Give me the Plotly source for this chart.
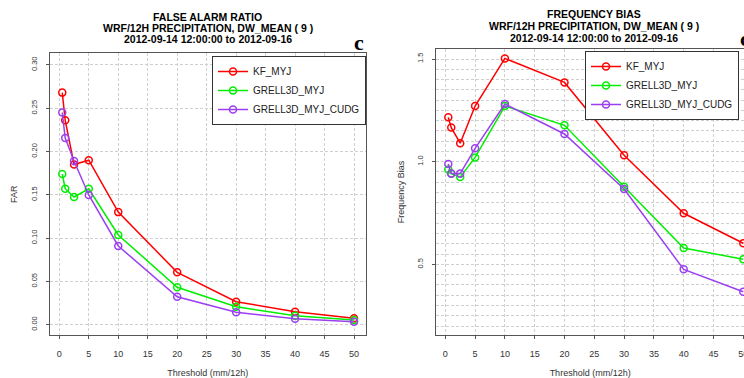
import plotly.graph_objects as go

W, H = 744, 378

thresholds = [0.5, 1, 2.5, 5, 10, 20, 30, 40, 50]
series_names = ["KF_MYJ", "GRELL3D_MYJ", "GRELL3D_MYJ_CUDG"]
far_kf = [0.268, 0.236, 0.185, 0.190, 0.130, 0.0605, 0.0266, 0.0150, 0.0074]
far_grell = [0.174, 0.157, 0.1475, 0.157, 0.1036, 0.0432, 0.0208, 0.0104, 0.0054]
far_cudg = [0.245, 0.2156, 0.189, 0.1498, 0.0909, 0.0323, 0.0143, 0.0069, 0.0035]
fb_kf = [1.216, 1.166, 1.090, 1.271, 1.503, 1.386, 1.031, 0.749, 0.603]
fb_grell = [0.962, 0.942, 0.925, 1.021, 1.271, 1.177, 0.878, 0.580, 0.525]
fb_cudg = [0.989, 0.942, 0.942, 1.065, 1.281, 1.135, 0.867, 0.476, 0.367]
colors = ["#FF0000", "#00EE00", "#9B3FF0"]

x_ticks = [0, 5, 10, 15, 20, 25, 30, 35, 40, 45, 50]
far_ticks = [0.00, 0.05, 0.10, 0.15, 0.20, 0.25, 0.30]
far_tick_text = ["0.00", "0.05", "0.10", "0.15", "0.20", "0.25", "0.30"]
fb_ticks = [0.5, 1.0, 1.5]
fb_tick_text = ["0.5", "1.0", "1.5"]

title_left = ["FALSE ALARM RATIO", "WRF/12H PRECIPITATION, DW_MEAN ( 9 )", "2012-09-14 12:00:00 to 2012-09-16"]
title_right = ["FREQUENCY BIAS", "WRF/12H PRECIPITATION, DW_MEAN ( 9 )", "2012-09-14 12:00:00 to 2012-09-16"]
x_title = "Threshold (mm/12h)"


def px(x):
    return x / W


def py(y):
    return 1 - y / H


FONT = "Liberation Sans, Arial, sans-serif"
fig = go.Figure()

for name, vals, col in zip(series_names, [far_kf, far_grell, far_cudg], colors):
    fig.add_trace(go.Scatter(
        x=thresholds, y=vals, name=name, mode="lines+markers",
        line=dict(color=col, width=1.5),
        marker=dict(symbol="circle-open", size=7, color=col, line=dict(width=1.5, color=col)),
        xaxis="x", yaxis="y", legend="legend", cliponaxis=False,
    ))
for name, vals, col in zip(series_names, [fb_kf, fb_grell, fb_cudg], colors):
    fig.add_trace(go.Scatter(
        x=thresholds, y=vals, name=name, mode="lines+markers",
        line=dict(color=col, width=1.5),
        marker=dict(symbol="circle-open", size=7, color=col, line=dict(width=1.5, color=col)),
        xaxis="x2", yaxis="y2", legend="legend2", cliponaxis=False,
    ))

grid = dict(showgrid=True, gridcolor="#cfcfcf", griddash="3px,2px", gridwidth=1, zeroline=False)
axis_common = dict(showline=True, linecolor="#555555", linewidth=1.2, ticks="outside", ticklen=3,
                   tickcolor="#555555", tickfont=dict(size=9, color="#333333", family=FONT),
                   automargin=False)
ytickfont = dict(size=7.5, color="#333333", family=FONT)

fig.update_layout(
    width=W, height=H, margin=dict(l=0, r=0, t=0, b=0, pad=0, autoexpand=False), autosize=False,
    paper_bgcolor="white", plot_bgcolor="white",
    font=dict(family=FONT, color="#333333"),
    xaxis=dict(domain=[px(50), px(365.7)], range=[-1.58, 51.98], tickvals=x_ticks, mirror=True,
               anchor="y", ticklabelstandoff=7,
               title=dict(text=x_title, font=dict(size=9, color="#333333"), standoff=14),
               **grid, **axis_common),
    yaxis=dict(domain=[py(335), py(53.3)], range=[-0.0119, 0.3134], tickvals=far_ticks,
               ticktext=far_tick_text, tickangle=-90, mirror=True, anchor="x", ticklabelstandoff=6,
               title=dict(text="FAR", font=dict(size=9, color="#333333"), standoff=10),
               **grid, **{**axis_common, "tickfont": ytickfont}),
    xaxis2=dict(domain=[px(436.3), 1], range=[-1.51, 50.12], tickvals=x_ticks, mirror=True,
                anchor="y2", ticklabelstandoff=7, ticklabeloverflow="allow",
                title=dict(text=x_title, font=dict(size=9, color="#333333"), standoff=14),
                **grid, **axis_common),
    yaxis2=dict(domain=[py(335), py(49)], range=[0.1563, 1.5487], tickvals=fb_ticks,
                ticktext=fb_tick_text, tickangle=-90, mirror=False, anchor="x2", ticklabelstandoff=6,
                minor=dict(dtick=0.05, tick0=0, showgrid=True, gridcolor="#cfcfcf", griddash="3px,2px",
                           ticks=""),
                title=dict(text="Frequency Bias", font=dict(size=9, color="#333333"), standoff=10),
                **grid, **{**axis_common, "tickfont": ytickfont}),
    legend=dict(x=px(212), y=py(56), xanchor="left", yanchor="top", bgcolor="white",
                bordercolor="#333333", borderwidth=1, font=dict(size=10, color="#222222", family=FONT),
                tracegroupgap=0, itemwidth=30),
    legend2=dict(x=px(739), y=py(51), xanchor="right", yanchor="top", bgcolor="white",
                 bordercolor="#333333", borderwidth=1, font=dict(size=10, color="#222222", family=FONT),
                 tracegroupgap=0, itemwidth=30),
)

annotations = []
for lines, cx, ys in [(title_left, 208, [17, 28, 39]), (title_right, 594, [14, 26, 38])]:
    for txt, yy in zip(lines, ys):
        annotations.append(dict(text="<b>%s</b>" % txt, x=px(cx), y=py(yy), xref="paper", yref="paper",
                                xanchor="center", yanchor="middle", showarrow=False,
                                font=dict(size=10.5, color="black", family=FONT)))
for cx, cy in [(358.5, 42), (745, 39)]:
    annotations.append(dict(text="<b>c</b>", x=px(cx), y=py(cy), xref="paper", yref="paper",
                            xanchor="center", yanchor="middle", showarrow=False,
                            font=dict(size=22, color="black", family="Liberation Serif, serif")))
fig.update_layout(annotations=annotations)

post = (
    "document.documentElement.style.overflow='hidden';"
    "document.body.style.margin='0px';document.body.style.padding='0px';"
    "document.body.style.overflow='hidden';"
)
fig.write_html(
    "out.html",
    config={"responsive": False, "displayModeBar": False},
    post_script=post,
)
